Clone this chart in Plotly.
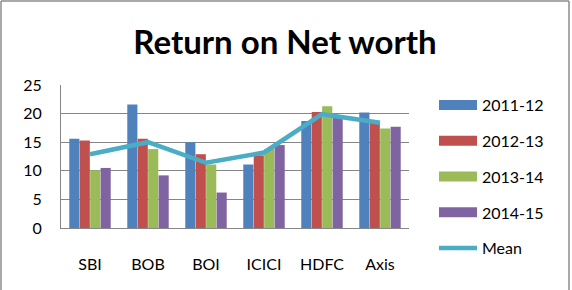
import plotly.graph_objects as go

banks = ["SBI", "BOB", "BOI", "ICICI", "HDFC", "Axis"]
y2011_12 = [15.6, 21.6, 15.0, 11.1, 18.7, 20.2]
y2012_13 = [15.3, 15.6, 12.9, 12.7, 20.3, 18.7]
y2013_14 = [10.1, 13.8, 11.1, 13.8, 21.3, 17.4]
y2014_15 = [10.5, 9.2, 6.2, 14.5, 19.4, 17.7]
mean_vals = [12.9, 15.0, 11.4, 13.2, 19.9, 18.4]

series = [
    ("2011-12", y2011_12, "#4F81BD"),
    ("2012-13", y2012_13, "#C0504D"),
    ("2013-14", y2013_14, "#9BBB59"),
    ("2014-15", y2014_15, "#8064A2"),
]
mean_color = "#4BACC6"
FONT = "Lato, Calibri, sans-serif"

W, H = 572, 290
L, R, T, B = 61, 163, 85, 62
pw, ph = W - L - R, H - T - B

fig = go.Figure()
for i, (name, vals, col) in enumerate(series):
    fig.add_trace(go.Bar(x=banks, y=vals, name=name, marker_color=col,
                         marker_line_width=0, showlegend=False))
for i, (name, vals, col) in enumerate(series):
    fig.add_trace(go.Scatter(x=[None], y=[None], mode="lines", name=name,
                             line=dict(color=col, width=10), legendgroup=f"g{i}"))
fig.add_trace(go.Scatter(x=banks, y=mean_vals, mode="lines", name="Mean",
                         line=dict(color=mean_color, width=4.5), legendgroup="gm"))

def px_x(p):
    return (p - L) / pw

def px_y(p):
    return (H - B - p) / ph

border = dict(color="#8c8c8c", width=1.5)
shapes = [
    dict(type="line", xref="paper", yref="paper", x0=px_x(1), x1=px_x(1), y0=px_y(1), y1=px_y(300), line=border),
    dict(type="line", xref="paper", yref="paper", x0=px_x(1), x1=px_x(569), y0=px_y(1), y1=px_y(1), line=border),
    dict(type="line", xref="paper", yref="paper", x0=px_x(569), x1=px_x(569), y0=px_y(1), y1=px_y(300), line=border),
]

fig.update_layout(
    width=W, height=H,
    margin=dict(l=L, r=R, t=T, b=B),
    paper_bgcolor="white", plot_bgcolor="white",
    font=dict(family=FONT, size=16, color="#000000"),
    title=dict(text="<b>Return on Net worth</b>", x=285 / W, xref="container", xanchor="center",
               y=1 - 42 / H, yanchor="middle", yref="container",
               font=dict(family=FONT, size=33, color="#000000")),
    barmode="group", bargap=0.28, bargroupgap=0.03,
    showlegend=True,
    legend=dict(x=px_x(434), y=px_y(88), xanchor="left", yanchor="top",
                font=dict(family=FONT, size=16), itemwidth=38, maxheight=300,
                tracegroupgap=12, bgcolor="rgba(0,0,0,0)"),
    shapes=shapes,
)
fig.update_xaxes(showline=True, linecolor="#868686", linewidth=1, showgrid=False,
                 ticks="", ticklabelstandoff=22, tickfont=dict(size=16))
fig.update_yaxes(range=[0, 25], dtick=5, showline=True, linecolor="#868686", linewidth=1,
                 showgrid=True, gridcolor="#868686", gridwidth=1, zeroline=False,
                 ticks="", ticklabelstandoff=15, tickfont=dict(size=16))

fig.write_html("out.html")
